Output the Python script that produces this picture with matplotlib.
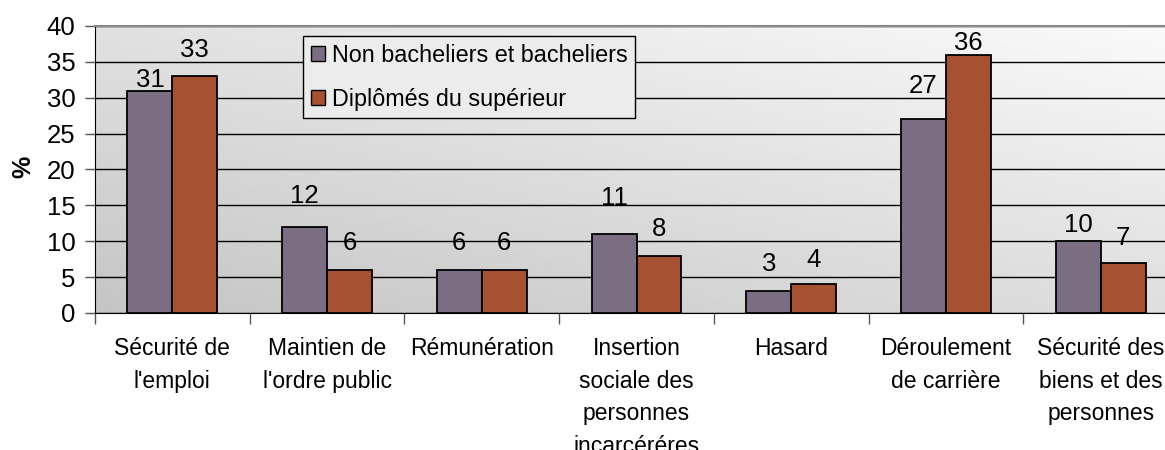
import numpy as np
import matplotlib
matplotlib.use("Agg")
import matplotlib.pyplot as plt
from matplotlib.patches import Patch

plt.rcParams['font.family'] = ['Liberation Sans', 'DejaVu Sans']

# donnees
categories = ["Sécurité de\nl'emploi", "Maintien de\nl'ordre public", "Rémunération",
              "Insertion\nsociale des\npersonnes\nincarcéréres", "Hasard",
              "Déroulement\nde carrière", "Sécurité des\nbiens et des\npersonnes"]
series_names = ["Non bacheliers et bacheliers", "Diplômés du supérieur"]
non_bacheliers = [31, 12, 6, 11, 3, 27, 10]
diplomes = [33, 6, 6, 8, 4, 36, 7]

# ecart (pixels) entre le haut de la barre et l'etiquette, comme dans l'original
ecart_nb = [4, 24, 20, 29, 20, 26, 9]
ecart_dip = [19, 20, 20, 20, 17, 5, 18]

couleurs = ["#7b6e82", "#a65232"]

fig = plt.figure(figsize=(11.65, 4.5), dpi=100)
ax = fig.add_axes([95/1165, 137/450, 1083/1165, 287/450])

# fond en degrade gris
xx, yy = np.meshgrid(np.linspace(0, 1, 200), np.linspace(0, 1, 200))
fond = 0.77 + 0.11*yy + 0.10*xx
ax.imshow(fond, cmap='gray', vmin=0, vmax=1, origin='lower', aspect='auto',
          extent=[-0.5, 6.5, 0, 40], zorder=0, interpolation='bilinear')

x = np.arange(len(categories))
w = 0.29
b1 = ax.bar(x - w/2, non_bacheliers, w, color=couleurs[0], edgecolor='black', linewidth=1.3, zorder=3)
b2 = ax.bar(x + w/2, diplomes, w, color=couleurs[1], edgecolor='black', linewidth=1.3, zorder=3)

for rects, vals, ecarts in [(b1, non_bacheliers, ecart_nb), (b2, diplomes, ecart_dip)]:
    for r, v, e in zip(rects, vals, ecarts):
        ax.annotate(str(v), (r.get_x() + r.get_width()/2, v), xytext=(0, e),
                    textcoords='offset pixels', ha='center', va='baseline',
                    fontsize=18.5, zorder=4)

ax.set_xlim(-0.5, 6.5)
ax.set_ylim(0, 40)
ax.set_yticks(range(0, 41, 5))
ax.yaxis.grid(True, color='black', linewidth=1, zorder=1)
ax.set_axisbelow(True)

ax.set_xticks(x)
ax.set_xticklabels(categories, fontsize=16.5, linespacing=1.55)
ax.set_xticks(np.arange(-0.5, 7, 1), minor=True)
ax.tick_params(axis='x', which='major', length=0, pad=17)
ax.tick_params(axis='x', which='minor', length=8, width=1, color='#555555', direction='out')
ax.tick_params(axis='y', length=7, width=1, color='#555555', pad=7, labelsize=18.5)

ax.spines['top'].set_color('#888888')
ax.spines['top'].set_linewidth(1.5)
ax.spines['right'].set_visible(False)
ax.spines['left'].set_color('black')
ax.spines['bottom'].set_color('black')

fig.text(23/1165, 1 - 167/450, '%', rotation=90, ha='center', va='center',
         fontsize=18, fontweight='bold')

handles = [Patch(facecolor=c, edgecolor='black', linewidth=1) for c in couleurs]
leg = ax.legend(handles, series_names, loc='upper left',
                bbox_to_anchor=((303-95)/1083, (414-137)/287), borderaxespad=0,
                fontsize=16.8, handlelength=0.6, handleheight=0.6, handletextpad=0.3,
                labelspacing=0.9, borderpad=0.33, fancybox=False, framealpha=1)
leg.get_frame().set_facecolor('#ececec')
leg.get_frame().set_edgecolor('black')
leg.get_frame().set_linewidth(1)
leg.set_zorder(5)

fig.savefig('out.png', dpi=100)
